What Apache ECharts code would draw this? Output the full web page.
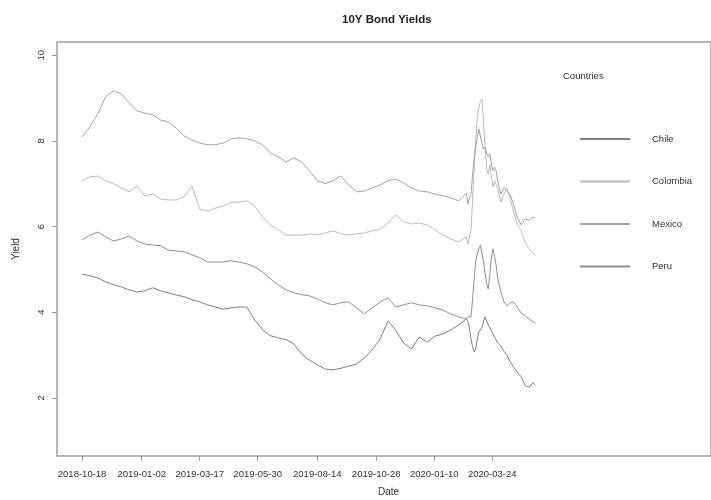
<!DOCTYPE html>
<html>
<head>
<meta charset="utf-8">
<title>10Y Bond Yields</title>
<script src="https://cdn.jsdelivr.net/npm/echarts@6/dist/echarts.min.js"></script>
<style>
  html, body { margin: 0; padding: 0; background: #fff; }
  #chart { width: 711px; height: 500px; }
</style>
</head>
<body>
<div id="chart"></div>
<script>
// observation dates (10-day steps, denser around the March 2020 spike)
const dates = [
  '2018-10-18', '2018-10-28', '2018-11-07', '2018-11-17', '2018-11-27', '2018-12-07', '2018-12-17', '2018-12-27',
  '2019-01-06', '2019-01-16', '2019-01-26', '2019-02-05', '2019-02-15', '2019-02-25', '2019-03-07', '2019-03-17',
  '2019-03-27', '2019-04-06', '2019-04-16', '2019-04-26', '2019-05-06', '2019-05-16', '2019-05-26', '2019-06-05',
  '2019-06-15', '2019-06-25', '2019-07-05', '2019-07-15', '2019-07-25', '2019-08-04', '2019-08-14', '2019-08-24',
  '2019-09-03', '2019-09-13', '2019-09-23', '2019-10-03', '2019-10-13', '2019-10-23', '2019-11-02', '2019-11-12',
  '2019-11-22', '2019-12-02', '2019-12-12', '2019-12-22',
  '2020-01-01', '2020-01-11', '2020-01-21', '2020-01-31', '2020-02-10', '2020-02-20',
  '2020-02-22', '2020-02-24', '2020-02-26', '2020-02-28', '2020-03-01', '2020-03-03', '2020-03-05', '2020-03-07',
  '2020-03-09', '2020-03-11', '2020-03-13', '2020-03-15', '2020-03-17', '2020-03-19', '2020-03-21', '2020-03-23',
  '2020-03-25', '2020-03-27', '2020-03-29', '2020-03-31',
  '2020-04-04', '2020-04-08', '2020-04-12', '2020-04-16', '2020-04-20', '2020-04-25', '2020-04-30', '2020-05-05',
  '2020-05-10', '2020-05-15', '2020-05-18'
]

const chile = [
  4.89, 4.85, 4.80, 4.71, 4.64, 4.59, 4.52, 4.47,
  4.50, 4.57, 4.50, 4.45, 4.40, 4.36, 4.29, 4.24, 4.17, 4.12, 4.07, 4.10, 4.12, 4.12, 3.82, 3.59,
  3.45, 3.40, 3.36, 3.26, 3.02, 2.88, 2.77, 2.67, 2.65, 2.69, 2.74, 2.79, 2.93, 3.12, 3.37, 3.79,
  3.58, 3.28, 3.14, 3.42,
  3.30, 3.44, 3.49, 3.58, 3.70, 3.84,
  3.79, 3.61, 3.37, 3.18, 3.07, 3.14, 3.37, 3.53, 3.56, 3.65, 3.79, 3.89, 3.79, 3.70, 3.68, 3.56,
  3.49, 3.42, 3.35, 3.28,
  3.21, 3.09, 2.98, 2.84, 2.72, 2.60, 2.49, 2.28, 2.25, 2.35, 2.30
]

const colombia = [
  7.07, 7.16, 7.18, 7.07, 7.00, 6.90, 6.81, 6.95,
  6.71, 6.76, 6.64, 6.62, 6.62, 6.69, 6.95, 6.41, 6.36, 6.43, 6.48, 6.57, 6.57, 6.60, 6.48, 6.22,
  6.04, 5.92, 5.80, 5.80, 5.80, 5.83, 5.80, 5.85, 5.90, 5.83, 5.80, 5.83, 5.85, 5.90, 5.94, 6.08,
  6.27, 6.11, 6.06, 6.08,
  6.04, 5.92, 5.80, 5.71, 5.64, 5.76,
  5.59, 5.55, 5.94, 6.64, 7.35, 8.05, 8.56, 8.79, 8.93, 8.98, 8.40, 7.81, 7.35, 7.21, 7.44, 7.16,
  6.93, 7.07, 7.11, 6.88,
  6.57, 6.76, 6.88, 6.64, 6.36, 6.04, 5.90, 5.62, 5.48, 5.38, 5.34
]

const mexico = [
  8.09, 8.33, 8.63, 9.03, 9.17, 9.10, 8.89, 8.70,
  8.65, 8.61, 8.49, 8.44, 8.30, 8.12, 8.02, 7.95, 7.91, 7.91, 7.95, 8.05, 8.07, 8.05, 8.00, 7.91,
  7.72, 7.63, 7.51, 7.60, 7.51, 7.30, 7.07, 7.00, 7.07, 7.18, 6.97, 6.81, 6.83, 6.90, 6.97, 7.07,
  7.11, 7.02, 6.90, 6.83,
  6.81, 6.76, 6.72, 6.67, 6.60, 6.77,
  6.53, 6.51, 6.77, 7.23, 7.58, 7.86, 8.09, 8.28, 8.09, 7.93, 7.81, 7.86, 7.70, 7.63, 7.70, 7.46,
  7.30, 7.39, 7.30, 7.07,
  6.76, 6.92, 6.83, 6.74, 6.53, 6.22, 6.04, 6.18, 6.15, 6.22, 6.20
]

const peru = [
  5.69, 5.80, 5.87, 5.76, 5.66, 5.71, 5.78, 5.66,
  5.59, 5.57, 5.55, 5.45, 5.43, 5.41, 5.34, 5.27, 5.17, 5.17, 5.17, 5.20, 5.17, 5.13, 5.06, 4.94,
  4.78, 4.64, 4.52, 4.45, 4.41, 4.38, 4.31, 4.22, 4.17, 4.22, 4.24, 4.10, 3.96, 4.10, 4.24, 4.33,
  4.12, 4.17, 4.22, 4.17,
  4.15, 4.10, 4.05, 3.96, 3.89, 3.84,
  3.89, 3.91, 3.89, 4.31, 4.78, 5.20, 5.36, 5.48, 5.57, 5.36, 5.17, 4.89, 4.66, 4.54, 4.89, 5.29,
  5.48, 5.29, 5.10, 4.78,
  4.47, 4.24, 4.15, 4.22, 4.24, 4.12, 3.98, 3.91, 3.84, 3.77, 3.75
]

const countries = ['Chile', 'Colombia', 'Mexico', 'Peru']
const colors = ['#808080', '#bcbcbc', '#a5a5a5', '#909090']

const xTickLabels = ['2018-10-18', '2019-01-02', '2019-03-17', '2019-05-30',
  '2019-08-14', '2019-10-28', '2020-01-10', '2020-03-24']
const yTicks = [2, 4, 6, 8, 10]

// dates are kept as UTC timestamps on a plain value axis
const toTime = s => Date.parse(s + 'T00:00:00Z')
const pad = n => (n < 10 ? '0' : '') + n
const fmtDate = v => {
  const d = new Date(Math.round(v / 86400000) * 86400000)
  return d.getUTCFullYear() + '-' + pad(d.getUTCMonth() + 1) + '-' + pad(d.getUTCDate())
}
const xTickValues = xTickLabels.map(toTime)

const seriesValues = [chile, colombia, mexico, peru]
const font = 'Liberation Sans, Arial, sans-serif'

const chart = echarts.init(document.getElementById('chart'))
chart.setOption({
  animation: false,
  backgroundColor: '#fff',
  color: colors,
  title: {
    text: '10Y Bond Yields',
    left: 337,
    top: 9,
    textStyle: { fontFamily: font, fontSize: 11.5, fontWeight: 'bold', color: '#222' }
  },
  grid: {
    left: 57, right: 0, top: 42, bottom: 44,
    show: true, borderColor: '#a0a0a0', borderWidth: 1.5
  },
  legend: {
    orient: 'vertical',
    left: 575,
    top: 129,
    itemWidth: 50,
    itemHeight: 2,
    itemGap: 32.5,
    icon: 'rect',
    data: countries,
    textStyle: { fontFamily: font, fontSize: 9.5, color: '#333', padding: [0, 0, 0, 17] }
  },
  graphic: [
    {
      type: 'text', left: 563, top: 71,
      style: { text: 'Countries', fontFamily: font, fontSize: 9.5, fill: '#333' }
    },
    {
      type: 'text', left: 378, top: 487,
      style: { text: 'Date', fontFamily: font, fontSize: 10, fill: '#333' }
    }
  ],
  xAxis: {
    type: 'value',
    min: toTime('2018-09-16'),
    max: toTime('2020-12-28'),
    axisLine: { show: false },
    splitLine: { show: false },
    axisTick: { show: true, length: 5, customValues: xTickValues, lineStyle: { color: '#999' } },
    axisLabel: {
      customValues: xTickValues,
      margin: 13,
      fontFamily: font,
      fontSize: 9.5,
      color: '#333',
      hideOverlap: false,
      formatter: fmtDate
    }
  },
  yAxis: {
    type: 'value',
    min: 0.64,
    max: 10.31,
    name: 'Yield',
    nameLocation: 'middle',
    nameGap: 36,
    nameRotate: 90,
    nameTextStyle: { fontFamily: font, fontSize: 10, color: '#333' },
    axisLine: { show: false },
    splitLine: { show: false },
    axisTick: { show: true, length: 5, customValues: yTicks, lineStyle: { color: '#999' } },
    axisLabel: {
      customValues: yTicks,
      rotate: 90,
      margin: 11,
      fontFamily: font,
      fontSize: 9.5,
      color: '#333'
    }
  },
  series: countries.map((name, i) => ({
    name: name,
    type: 'line',
    symbol: 'none',
    lineStyle: { width: 1, color: colors[i] },
    itemStyle: { color: colors[i] },
    data: dates.map((d, j) => [toTime(d), seriesValues[i][j]])
  }))
})
</script>
</body>
</html>
